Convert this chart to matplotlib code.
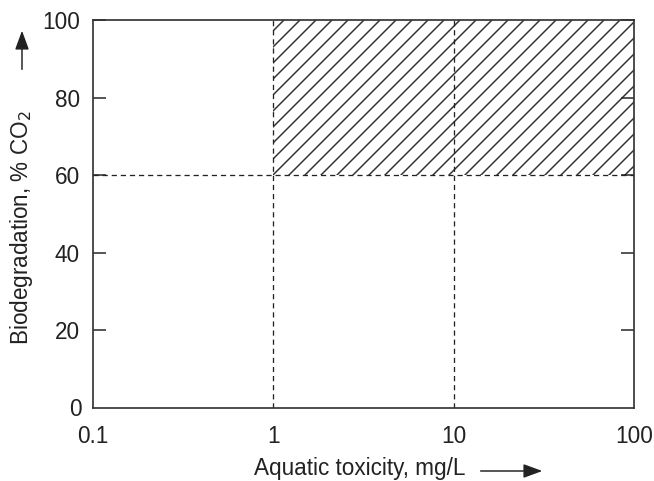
import matplotlib
matplotlib.use("Agg")
import matplotlib.pyplot as plt
from matplotlib.patches import Rectangle, FancyArrowPatch

DPI = 96
W, H = 654, 481

x_ticks = [0.1, 1, 10, 100]
x_tick_labels = ["0.1", "1", "10", "100"]
y_ticks = [20, 40, 60, 80, 100]
y_tick_labels = ["20", "40", "60", "80", "100"]
x_thresholds = [1, 10]
y_threshold = 60
region_x = [1, 100]
region_y = [60, 100]

def px2pt(p):
    return p * 72.0 / DPI

plt.rcParams['font.family'] = ['Liberation Sans', 'DejaVu Sans']
plt.rcParams['hatch.linewidth'] = px2pt(1.5)
plt.rcParams['hatch.color'] = '#333333'

fig = plt.figure(figsize=(W / DPI, H / DPI), dpi=DPI)
ax = fig.add_axes([93 / W, 1 - 408 / H, (634 - 93) / W, (408 - 20) / H])
ax.set_xscale('log')
ax.set_xlim(0.1, 100)
ax.set_ylim(0, 100)

fs = px2pt(22.5)
dash = (0, (4, 3))
lc = '#222222'
lw = px2pt(1.3)

ax.add_patch(Rectangle((region_x[0], region_y[0]), region_x[1] - region_x[0],
                       region_y[1] - region_y[0], fill=False, hatch='//',
                       edgecolor='#333333', linewidth=0, zorder=1))
for xv in x_thresholds:
    ax.plot([xv, xv], [0, 100], color=lc, lw=lw, linestyle=dash, zorder=2)
ax.plot([0.1, 100], [y_threshold, y_threshold], color=lc, lw=lw, linestyle=dash, zorder=2)

for s in ax.spines.values():
    s.set_linewidth(px2pt(1.7))
    s.set_color('#333333')

ax.set_yticks(y_ticks)
ax.set_yticklabels(y_tick_labels, fontsize=fs)
ax.tick_params(axis='y', direction='in', length=px2pt(13), width=px2pt(1.5),
               left=True, right=True, pad=px2pt(13), colors='#222222')
ax.set_xticks(x_ticks)
ax.set_xticklabels(x_tick_labels, fontsize=fs)
ax.xaxis.set_minor_locator(matplotlib.ticker.NullLocator())
ax.tick_params(axis='x', length=0, pad=px2pt(17), colors='#222222')
fig.text(75 / W, 1 - 409 / H, "0", fontsize=fs, ha='center', va='center', color='#222222')

fig.text(22 / W, 1 - 228 / H, "Biodegradation, % CO$_2$", rotation=90, fontsize=fs,
         ha='center', va='center', color='#222222')
fig.text(360 / W, 1 - 469 / H, "Aquatic toxicity, mg/L", fontsize=fs,
         ha='center', va='center', color='#222222')

fig.add_artist(FancyArrowPatch(
    (22 / W, 1 - 72 / H), (22 / W, 1 - 28 / H), transform=fig.transFigure,
    arrowstyle='-|>,head_length=0.6,head_width=0.22', mutation_scale=20,
    color='#222222', lw=px2pt(1.5)))
fig.add_artist(FancyArrowPatch(
    (478 / W, 1 - 471 / H), (545 / W, 1 - 471 / H), transform=fig.transFigure,
    arrowstyle='-|>,head_length=0.6,head_width=0.22', mutation_scale=20,
    color='#222222', lw=px2pt(1.5)))

fig.savefig("out.png", dpi=DPI)
